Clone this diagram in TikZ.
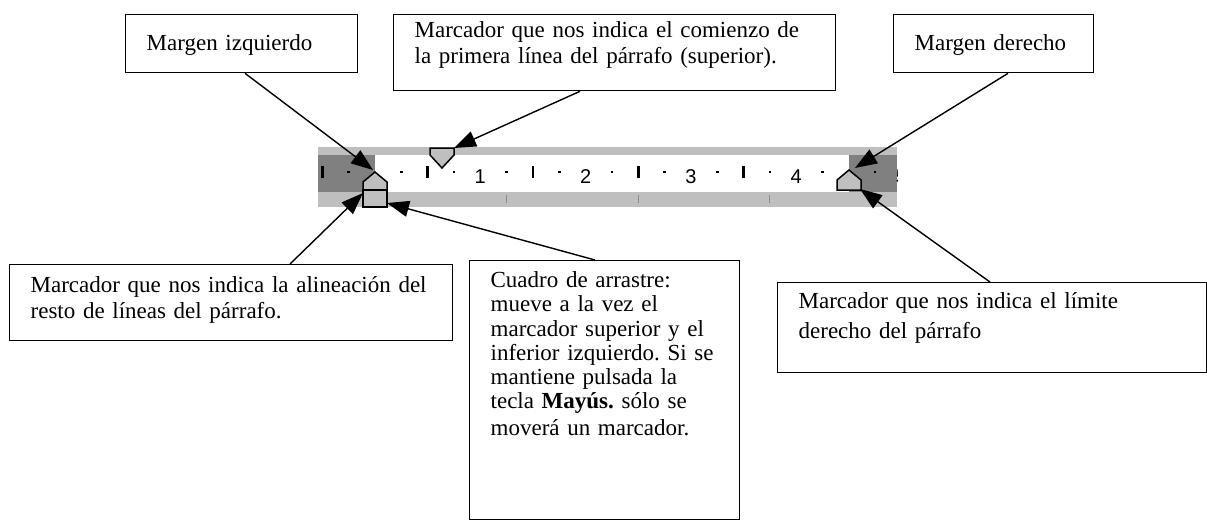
\documentclass[tikz,border=0pt]{standalone}
\usepackage{fontspec}
\setmainfont{Liberation Serif}
\newfontfamily\rulerfont{Liberation Sans}
\usetikzlibrary{arrows.meta}
\frenchspacing
\tikzset{
  callout/.style = {
    draw=black, line width=1.3pt, anchor=north west,
    inner xsep=21pt, inner ysep=0pt, align=left,
    font=\fontsize{23}{26}\selectfont
  },
  pointer/.style = {
    draw=black, line width=1.4pt,
    -{Triangle[length=22pt, width=16pt]}
  },
  marker/.style = {
    draw=black, line width=1.5pt, fill=black!25, line join=miter
  },
  rulernum/.style = {
    font=\rulerfont\fontsize{20}{20}\selectfont, anchor=base, inner sep=0pt
  }
}

\begin{document}
\begin{tikzpicture}[x=1pt, y=-1pt]

    \useasboundingbox (0,0) rectangle (1207,520);

    % ------------------------------------------------------------- Ruler
    \fill [black!25] (318,147) rectangle (897,207);
    \fill [black!50] (318,155) rectangle (375,192);
    \fill [white]    (375,155) rectangle (849,192);
    \fill [black!50] (849,155) rectangle (897,192);

    % -------- quarter dots, half ticks, numbers (1 cm = 105.3)
    \foreach \q in {-1,1,3,...,19}
      \fill ({375+26.325*\q-1.3},170.7) rectangle +(2.6,2.6);
    \foreach \q in {-2,2,6,10,14}
      \fill ({375+26.325*\q-1.3},166) rectangle +(2.6,12);
    \foreach \n in {1,...,4}
      \node [rulernum] (num\n) at ({375+105.3*\n},183) {\n};
    \begin{scope}
      \clip (318,147) rectangle (897,207);
      \node [rulernum] (num5) at ({375+105.3*5},183) {5};
    \end{scope}

    % -------- default tab stops
    \foreach \k in {1,2,3}
      \draw [black!45, line width=1pt] ({375+131.6*\k},195) -- ({375+131.6*\k},203);

    % ------------------------------------------------------------ Markers
    \draw [marker] (430,148) -- (454,148) -- (454,155) -- (442,168) -- (430,155) -- cycle;
    \draw [marker] (375,172) -- (387,182) -- (387,190) -- (363,190) -- (363,182) -- cycle;
    \draw [marker] (363,190) rectangle (387,207);
    \draw [marker] (849,170) -- (861,180) -- (861,190) -- (837,190) -- (837,180) -- cycle;

    \coordinate (firstind)  at (454,148);
    \coordinate (leftmarg)  at (373,170);
    \coordinate (hanging)   at (363,193);
    \coordinate (dragbox)   at (387,203);
    \coordinate (rightmarg) at (855,168);
    \coordinate (rightind)  at (860,189);

    % ------------------------------------------------------------ Callouts
    \node [callout, minimum width=232pt, text width=190pt,
           text height=36pt, text depth=22pt] (lmargin) at (125,14)
          {Margen izquierdo};
    \node [callout, minimum width=442pt, text width=400pt,
           text height=23pt, text depth=53pt] (firstline) at (393,14)
          {Marcador que nos indica el comienzo de\\
           la primera línea del párrafo (superior).};
    \node [callout, minimum width=200pt, text width=158pt,
           text height=36pt, text depth=22pt] (rmargin) at (893,14)
          {Margen derecho};
    \node [callout, minimum width=443pt, text width=401pt,
           text height=28pt, text depth=48pt] (hangtext) at (9,264)
          {Marcador que nos indica la alineación del\\
           resto de líneas del párrafo.};
    \node [callout, minimum width=270pt, text width=228pt,
           text height=27pt, text depth=232pt,
           font=\fontsize{23}{24.2}\selectfont] (dragtext) at (469,260)
          {Cuadro de arrastre:\\
           mueve a la vez el\\
           marcador superior y el\\
           inferior izquierdo. Si se\\
           mantiene pulsada la\\
           tecla \textbf{Mayús.} sólo se\\[3pt]
           moverá un marcador.};
    \node [callout, minimum width=429pt, text width=387pt,
           text height=26pt, text depth=64pt] (rindtext) at (777,282)
          {Marcador que nos indica el límite\\[4pt]
           derecho del párrafo};

    % ------------------------------------------------------------ Pointers
    \draw [pointer] ([xshift=120pt]lmargin.south west)   -- (leftmarg);
    \draw [pointer] ([xshift=187pt]firstline.south west) -- (firstind);
    \draw [pointer] ([xshift=115pt]rmargin.south west)   -- (rightmarg);
    \draw [pointer] ([xshift=281pt]hangtext.north west)  -- (hanging);
    \draw [pointer] ([xshift=126pt]dragtext.north west)  -- (dragbox);
    \draw [pointer] ([xshift=213pt]rindtext.north west)  -- (rightind);

\end{tikzpicture}
\end{document}
